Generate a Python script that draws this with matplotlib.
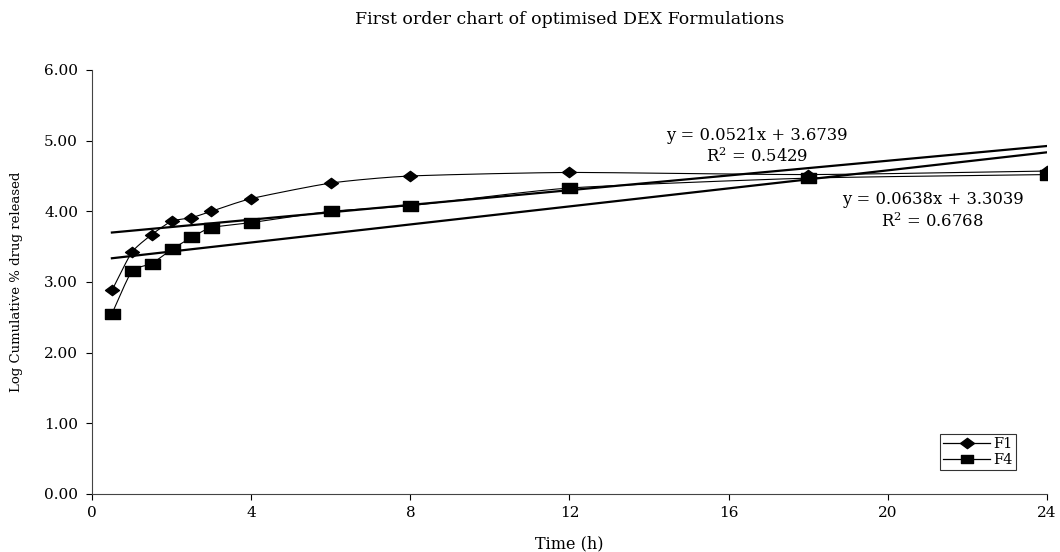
import numpy as np
import matplotlib
matplotlib.use("Agg")
import matplotlib.pyplot as plt
from matplotlib.lines import Line2D
from matplotlib.path import Path

# ---- data ----
time_h = [0.5, 1, 1.5, 2, 2.5, 3, 4, 6, 8, 12, 18, 24]
f1 = [2.88, 3.42, 3.67, 3.86, 3.91, 4.00, 4.18, 4.40, 4.50, 4.55, 4.52, 4.57]
f4 = [2.55, 3.15, 3.26, 3.46, 3.63, 3.77, 3.84, 4.00, 4.08, 4.33, 4.47, 4.52]
f1_trend = (0.0521, 3.6739)
f4_trend = (0.0638, 3.3039)
f1_r2 = 0.5429
f4_r2 = 0.6768
series_names = ['F1', 'F4']
x_ticks = [0, 4, 8, 12, 16, 20, 24]
y_ticks = [0, 1, 2, 3, 4, 5, 6]

plt.rcParams['font.family'] = ['DejaVu Serif']
plt.rcParams['mathtext.fontset'] = 'dejavuserif'

# wide (horizontally stretched) marker shapes as in the reference
diamond = Path([(-1.35, 0), (0, 1), (1.35, 0), (0, -1), (-1.35, 0)],
               [Path.MOVETO, Path.LINETO, Path.LINETO, Path.LINETO, Path.CLOSEPOLY])
square = Path([(-1.4, -1), (1.4, -1), (1.4, 1), (-1.4, 1), (-1.4, -1)],
              [Path.MOVETO, Path.LINETO, Path.LINETO, Path.LINETO, Path.CLOSEPOLY])


def smooth(x, y, n=30):
    """Hermite smoothing for drawing a curve through points."""
    x = np.asarray(x, float)
    y = np.asarray(y, float)
    px = np.concatenate([[2 * x[0] - x[1]], x, [2 * x[-1] - x[-2]]])
    py = np.concatenate([[2 * y[0] - y[1]], y, [2 * y[-1] - y[-2]]])
    xs, ys = [], []
    t = np.linspace(0, 1, n)
    for i in range(1, len(px) - 2):
        p0x, p1x, p2x, p3x = px[i - 1:i + 3]
        p0y, p1y, p2y, p3y = py[i - 1:i + 3]
        k = 0.5 * 0.6
        m1x, m1y = k * (p2x - p0x), k * (p2y - p0y)
        m2x, m2y = k * (p3x - p1x), k * (p3y - p1y)
        h00 = 2 * t**3 - 3 * t**2 + 1
        h10 = t**3 - 2 * t**2 + t
        h01 = -2 * t**3 + 3 * t**2
        h11 = t**3 - t**2
        xs.append(h00 * p1x + h10 * m1x + h01 * p2x + h11 * m2x)
        ys.append(h00 * p1y + h10 * m1y + h01 * p2y + h11 * m2y)
    return np.concatenate(xs), np.concatenate(ys)


fig = plt.figure(figsize=(10.6, 5.52), dpi=100)
ax = fig.add_axes([0.0868, 0.1051, 0.9009, 0.7681])

sx, sy = smooth(time_h, f1)
ax.plot(sx, sy, color='black', lw=0.8, zorder=2)
ax.plot(time_h, f1, linestyle='none', marker=diamond, markersize=10,
        color='black', zorder=3)
sx, sy = smooth(time_h, f4)
ax.plot(sx, sy, color='black', lw=0.8, zorder=2)
ax.plot(time_h, f4, linestyle='none', marker=square, markersize=10.8,
        color='black', zorder=3)

xt = np.array([time_h[0], time_h[-1]])
ax.plot(xt, f1_trend[0] * xt + f1_trend[1], color='black', lw=1.6, zorder=2)
ax.plot(xt, f4_trend[0] * xt + f4_trend[1], color='black', lw=1.6, zorder=2)

ax.set_xlim(0, 24)
ax.set_ylim(0, 6)
ax.set_xticks(x_ticks)
ax.set_yticks(y_ticks)
ax.set_yticklabels([f"{v:.2f}" for v in y_ticks])
ax.tick_params(direction='out', length=4, width=0.8, labelsize=11)
ax.tick_params(axis='y', pad=6)
ax.tick_params(axis='x', pad=5)
for s in ['top', 'right']:
    ax.spines[s].set_visible(False)
for s in ['left', 'bottom']:
    ax.spines[s].set_linewidth(0.8)
    ax.spines[s].set_color('#444444')

ax.set_xlabel('Time (h)', fontsize=11.5)
ax.xaxis.set_label_coords(0.5, -0.098)
ax.set_ylabel('Log Cumulative % drug released', fontsize=9.5)
ax.yaxis.set_label_coords(-0.072, 0.5)
fig.text(0.5377, 1 - 19 / 552, 'First order chart of optimised DEX Formulations',
         ha='center', va='center', fontsize=12.5)

ax.text(16.71, 5.08, f'y = {f1_trend[0]:.4f}x + {f1_trend[1]:.4f}', ha='center',
        va='center', fontsize=11.8)
ax.text(16.71, 4.77, f'R$^2$ = {f1_r2:.4f}', ha='center', va='center', fontsize=11.8)
ax.text(21.13, 4.17, f'y = {f4_trend[0]:.4f}x + {f4_trend[1]:.4f}', ha='center',
        va='center', fontsize=11.8)
ax.text(21.13, 3.86, f'R$^2$ = {f4_r2:.4f}', ha='center', va='center', fontsize=11.8)

handles = [Line2D([], [], color='black', lw=0.9, marker=diamond, markersize=10),
           Line2D([], [], color='black', lw=0.9, marker=square, markersize=8)]
leg = ax.legend(handles, series_names, loc='lower right',
                bbox_to_anchor=(0.9675, 0.0566), fontsize=10.5, frameon=True,
                fancybox=False, edgecolor='black', handlelength=3.2,
                handletextpad=0.25, borderpad=0.2, labelspacing=0.15,
                borderaxespad=0)
leg.get_frame().set_linewidth(0.8)

fig.savefig('out.png', dpi=100)
